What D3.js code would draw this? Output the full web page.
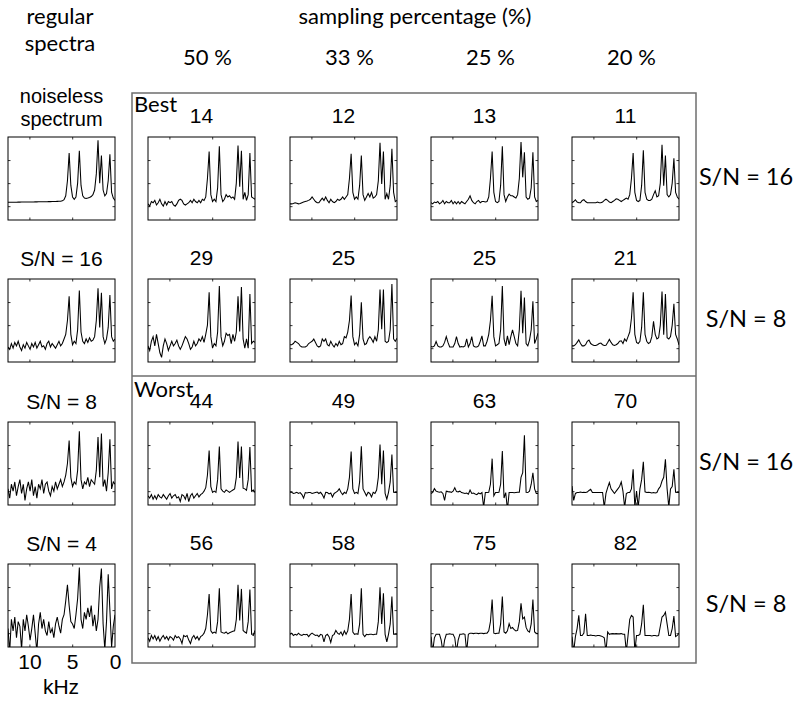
<!DOCTYPE html>
<html><head><meta charset="utf-8">
<script src="https://cdn.jsdelivr.net/npm/d3@7"></script>
<style>body{margin:0;background:#fff} svg{display:block}</style>
</head><body><svg id="c" width="800" height="701"></svg>
<script>
// ---- data ----
const sampling = ["50 %", "33 %", "25 %", "20 %"];
const leftTitles = ["noiseless spectrum", "S/N = 16", "S/N = 8", "S/N = 4"];
const rightLabels = ["S/N = 16", "S/N = 8", "S/N = 16", "S/N = 8"];
const scores = [[14, 12, 13, 11], [29, 25, 25, 21], [44, 49, 63, 70], [56, 58, 75, 82]];
const kHzTicks = [10, 5, 0];
const yTicks = [0, 10, 20];

// regular spectra (left column), 64 points from 12.5 kHz down to 0 kHz
const regNoiseless = [1.7,1.7,1.72,1.72,1.74,1.74,1.76,1.76,1.78,1.78,1.8,1.8,1.82,1.82,1.84,1.84,1.86,1.86,1.88,1.88,1.9,1.9,1.92,1.94,1.96,1.98,2,2.02,2.05,2.08,2.1,2.15,2.3,2.8,4.5,11,23,9,4,3,4,10,24,9,4.5,3.5,3.3,3.5,3.8,4.2,5,7,14,28.6,10,22,7,4.5,5.5,11,22.5,6,3.5,2.5];
const regSN16 = [0.5,-0.5,2,0,2.5,1,3,0.5,-1,1.5,0,2.5,1,-0.5,2,0.5,2.5,0,1.5,3,0.5,1,-0.5,2,3,0.5,2,1,0,1.5,3,1,2,4,6,12,22.5,6,1.5,3,2,8,25,7,3,2,4,2.5,4.5,3,3.5,5,12,26,9,24,5,2,4,9,23,5,3,4];
const regSN8 = [1,-3,3,0,4,-2,2,5,-1,3,-4,1,4,0,5,-2,2,-3,3,1,5,-1,3,4,0,-2,2,0,4,1,3,5,2,4,7,12,22,6,2,4,3,9,26,5,1,4,3,6,2,5,4,3,9,23.5,6,25,2,5,0,8,22.5,1,4,3];
const regSN4 = [2,-8,6,1,7,-2,5,3,-7,6,1,8,3,-3,2,8,0,-8,4,9,2,6,1,-1,5,0,2,-2,4,7,3,0,6,8,14,21,12,5,4,2,8,15,28.5,6,2,9,6,11,7,12,3,8,1,6,20,28,4,-7,5,25.5,10,-6,3,8];

// best reconstructions, S/N = 16 (50, 33, 25, 20 %)
const best16_50 = [1,0,2,1.5,2.5,0.5,1.5,3,1,0,2,0.5,2,1.5,2,0.5,0,1,2.5,3,2.5,1,0.5,1,1.5,2.5,1.5,3,2,1.5,2.5,1.5,3,2.5,4,12,23.7,5,2,3,2,8,26,5,2,3,5,4,4.5,3.5,4,3,10,26.3,8.4,24,3,6,2.5,5,23,4,3.5,3];
const best16_33 = [1,1,1.2,1.5,1.3,1,1.2,1.5,1.8,2,2.2,2.5,3,4,3,2,1.5,1.5,2.5,3.5,2.5,4,2.5,1.5,3,2,1.5,2,3,2.5,3,4,3,4,5,12,22.7,6,3,4,3,9,22,5,2.5,4,5.5,4,6,3.5,4,5,11,27.5,9.6,23.7,3,5.5,3,9,24.9,6,2,2.5];
const best16_25 = [1.5,1,1.8,1.5,2,1,1.5,2.5,1,2,1.5,1.5,2.5,1,2,1,2,1,2,1.5,1,2,3,4.5,2.5,1.5,1,2,2.5,1.5,2,2,1.8,2,4,12,23.7,6,2,1.5,2,9,26,5,2,4,5.2,4.5,4.5,4,3.5,5,12,27.8,12.5,23.4,4,3,3.5,8,23.4,4,2,2.5];
const best16_20 = [1.5,2,2.8,1.8,1.5,1.5,2.5,2.8,2,1.5,1.5,1.5,1.5,1.5,1.5,1.8,1.5,1.5,1.8,2.5,3,2.5,1.8,1.5,2,2.5,3.2,3,2.5,2,2.5,3,3.5,3,5,12,23,6,2.5,2,2.5,9,24.2,6,3,2.5,2.5,3,5,6.7,4,4.5,10,26.6,8.9,22,5,4,5,10,20.8,6,4,3];
// best reconstructions, S/N = 8
const best8_50 = [1,-1,3,5,1,6,2,-2,-4,1,4,2,-1,1,3,1,2,3.5,1,-0.5,1,3,5,4,2,-0.5,0.5,3,1,2,4,3,5,2.5,6,10,24.2,5,0,2,1,7,27,5,1,3,6.5,5.5,6,2,6,3,7,22.5,7.2,26.5,4,0,4,0,23.5,2,3,2.5];
const best8_33 = [1.5,1.5,2,3,2.5,2,1,0.5,0.5,0.5,1,2,2.5,3,4,2.5,1,0.5,1,4,3,4,1.5,1,3,1.5,0.5,2,1,3,1.5,2,5,4.5,7,12,22.8,5,1.5,2.5,1,6,19.9,4,1.5,2,4,5,4,2.5,5,3,8,25.4,8.2,25.4,3,2.4,3,8,27.8,4,3,4.3];
const best8_25 = [0.7,0.5,1,2.9,1,0.5,0.5,1,2.5,5,2.5,0.5,0.5,0.5,2,5,2,0.5,0.7,0.5,1,4,0.5,2,5,1,0.5,0.5,1,3,5.3,1,1,3,6,12,22.7,5,1,1.5,2,8,27,4,1,5.3,1.5,5,7.9,5,2,1,8,24.9,6.5,22,2,1,3.5,8,20.3,2,4,6.5];
const best8_20 = [1,1,1.5,2.5,3.6,2,1,1,1.5,3,3.5,2,1.5,1.2,1.2,1.5,2,2.2,1.5,1.2,1.3,2.5,3.8,2.5,1.5,1.2,1.5,2,3,3.2,2,4,3,5,7,13,24.2,6,2.5,2,3,9,24.2,6,3,2,2.5,5,11.6,6,4,4.5,10,24.6,5.8,23.5,4.5,4,5,10,19.3,6,4,1.4];
// worst reconstructions, S/N = 16
const worst16_50 = [-2,-3,-1.5,-3.5,-2,-3.5,-1.5,-2.5,-3,-1.5,-2.5,-3.5,-2,-1,-3,-2,-1.5,-3,-2.5,-4.5,-1.5,-2,-3.5,-1,-4.5,-2,-1,-3,-2,-1,-2.5,-1.5,-1,0,1.5,7,17.6,2,-0.5,0,-0.5,5,19.4,1,0,-0.5,0.5,0,-0.5,0,0.5,1,6,21.5,5.7,19.4,1.3,1,0.4,5,19.1,0,0.5,-0.6];
const worst16_33 = [-0.5,-0.5,-1,-0.8,-0.5,-1,-0.6,-1.5,-3,-0.6,-0.8,-0.6,-0.6,-1,-0.8,-0.6,-0.4,-1,-0.5,-1.5,-3,-0.5,-0.6,-1.2,-0.8,-2.5,-1,-0.5,0,1,-0.5,-1.5,-0.5,-1,1,6,17.2,1,-1,-0.5,-1,4,19.5,1,-0.5,-2,-0.5,-1,-2.5,-0.5,-1,0.5,6,20.2,3,17.6,-1,-3.5,-0.5,4,15.9,-0.5,-0.6,-0.6];
const worst16_25 = [-1,-0.5,1.1,0,-0.3,-0.5,-0.3,-1,-4,0,-0.2,-0.3,-0.5,0,1.5,-0.2,-0.3,0,-0.6,-0.8,-1,-0.8,-1.3,0.5,-1,-0.8,-1.2,-1.5,-0.8,-1.2,-0.6,-7,-0.6,-0.6,-0.5,3,14.1,-2,-0.6,-0.6,-0.5,3,17.4,-3,-0.6,-8,-0.6,-0.6,-0.6,-0.7,-0.6,-0.5,-0.5,6,8,24.2,-0.5,-0.6,0,3,8,1,-1,-1];
const worst16_20 = [2.2,-4,-1,-0.6,-0.6,-0.4,-0.6,-0.5,-0.6,-0.4,0.3,0.8,-0.6,-0.6,-0.6,-0.6,-0.6,-0.6,-0.6,-7,-1,1.5,3.7,1,0,-1,0,1,2,4,0,-7,-1,-0.6,-0.6,1,9.5,-7,0,-7,1,5,12.7,-0.3,-0.6,-0.5,-0.6,-0.8,-0.6,-0.8,-0.6,1,2,4.4,6,13.8,1,-7,1,2,9.5,-0.5,-0.6,-0.6];
// worst reconstructions, S/N = 8
const worst8_50 = [-2,-3.5,-1,-2.5,-1,-3,-1.5,-3.5,-2,-1,-2.5,-1.5,-3,-1.5,-2,-3,-1,-2,-1.5,-2.5,-4.5,-1,-1.5,-1,-3,-4.5,-2,-1,-2.5,-1.5,-3,-1.5,-1,0,2,8,17,1,0,0.5,0,5,19.5,0.5,0.2,0,0.5,-0.3,0.2,0.5,0.8,1,6,21,5.5,19.2,1.2,0.5,0,5,18.9,-0.5,-1,1.2];
const worst8_33 = [-0.5,0,-1,-0.5,-0.8,0,-0.7,-1,-0.5,-0.7,-0.5,-1.5,-0.5,0,-0.5,-1,-0.8,-1.5,-0.5,-0.8,-3.8,-1,-0.5,-1.5,-4,-1,-0.5,1.2,0,-0.5,0.5,-1,1,-0.5,1,6,17,0.5,-0.5,-0.3,-0.5,4,19.5,-0.5,-1.5,-0.5,-0.7,-0.5,-0.5,-0.7,-0.5,-0.5,5,19.9,4,17.3,-0.5,-3.8,-0.5,4,15.9,-0.5,-0.5,-0.5];
const worst8_25 = [-1.5,-8,-2,-0.5,-0.5,-0.5,-3,-8,-3,-0.5,-0.5,-0.3,-0.5,-0.5,-2,-8,-3,-0.5,-0.5,-0.3,-0.5,-8,-0.5,0,0,-0.2,0,0,-0.2,0,0,-0.2,0,0,1,5,14.6,0,-0.2,0,0,4,15.9,0.5,0,1,4.1,2,2.5,1.5,1,1.2,5,13,6.2,7,2.5,1,0.5,4,14.6,0.5,0,-0.2];
const worst8_20 = [-1.5,-8,-1.5,2,7.7,-1,-1,0,8.4,-1,-1,-0.8,-1,-1,-1.2,-1,-1,-1.2,-1.5,-2,-8,0.5,-0.5,-0.3,-0.2,-0.3,-0.2,-0.3,-0.3,-0.2,-0.5,-0.5,-8,-1,6,7.7,7,-8,-1,-1,-0.5,4,12.3,-1,-1,-1,-1,-1.2,-1,-1,-1.2,-1,3,7,7.7,9.1,4,-1,-1,2,7.4,-1.5,-1,0];

const leftSpectra = [regNoiseless, regSN16, regSN8, regSN4];
const gridSpectra = [
  [best16_50, best16_33, best16_25, best16_20],
  [best8_50, best8_33, best8_25, best8_20],
  [worst16_50, worst16_33, worst16_25, worst16_20],
  [worst8_50, worst8_33, worst8_25, worst8_20]
];

// frequency grid of each spectrum (kHz)
const freqs = d3.range(64).map(i => 12.5 - i * 12.5 / 63);

// ---- layout ----
const W = 107, H = 83;
const leftX = 8;
const colX = [148, 290, 431, 572];
const rowY = [137, 279, 422, 564];
const helv = "'Liberation Sans', Arial, Helvetica, sans-serif";
const myr = "Lato, 'Liberation Sans', sans-serif";

const svg = d3.select("#c");
const x = d3.scaleLinear().domain([12.5, 0]).range([0, W]);
const y = d3.scaleLinear().domain([-6, 30]).range([H, 0]);
const line = d3.line().x((d, i) => x(freqs[i])).y(d => y(d));

let clipId = 0;
function panel(px, py, data) {
  const g = svg.append("g").attr("transform", `translate(${px},${py})`);
  const id = "clip" + (clipId++);
  g.append("clipPath").attr("id", id).append("rect").attr("width", W).attr("height", H);
  g.append("path").datum(data).attr("clip-path", `url(#${id})`)
    .attr("d", line).attr("fill", "none").attr("stroke", "#000").attr("stroke-width", 1.05);
  const tk = 2.5;
  const axes = [
    [d3.axisBottom(x).tickValues([10, 5]), `translate(0,${H})`],
    [d3.axisTop(x).tickValues([10, 5]), `translate(0,0)`],
    [d3.axisLeft(y).tickValues(yTicks), `translate(0,0)`],
    [d3.axisRight(y).tickValues(yTicks), `translate(${W},0)`]
  ];
  axes.forEach(([ax, tr]) => {
    const a = g.append("g").attr("transform", tr)
      .call(ax.tickSizeInner(-tk).tickSizeOuter(0).tickFormat(""));
    a.select(".domain").remove();
    a.selectAll("line").attr("stroke", "#000").attr("stroke-width", 0.8);
  });
  g.append("rect").attr("width", W).attr("height", H).attr("fill", "none")
    .attr("stroke", "#000").attr("stroke-width", 1);
  return g;
}

// left column
leftSpectra.forEach((s, r) => panel(leftX, rowY[r], s));
// grid
gridSpectra.forEach((row, r) => row.forEach((s, c) => panel(colX[c], rowY[r], s)));

// big frame
svg.append("rect").attr("x", 132).attr("y", 93).attr("width", 564).attr("height", 570)
  .attr("fill", "none").attr("stroke", "#6e6e6e").attr("stroke-width", 1.5);
svg.append("line").attr("x1", 132).attr("x2", 696).attr("y1", 376).attr("y2", 376)
  .attr("stroke", "#6e6e6e").attr("stroke-width", 1.5);

function txt(t, tx, ty, size, fam, anchor) {
  return svg.append("text").attr("x", tx).attr("y", ty).text(t)
    .attr("font-size", size).attr("font-family", fam)
    .attr("text-anchor", anchor || "middle").attr("fill", "#000");
}

// scores
scores.forEach((row, r) => row.forEach((v, c) => txt(v, colX[c] + W / 2, rowY[r] - 14, 21, helv)));
// left titles
txt("noiseless", leftX + W / 2, 103, 20, helv);
txt("spectrum", leftX + W / 2, 126, 20, helv);
leftTitles.slice(1).forEach((t, i) => txt(t, leftX + W / 2, rowY[i + 1] - 13, 21, helv));

// left x axis labels
const lab = svg.append("g").attr("transform", `translate(${leftX},${rowY[3] + H})`)
  .call(d3.axisBottom(x).tickValues(kHzTicks).tickSize(0).tickPadding(7).tickFormat(d3.format("d")));
lab.select(".domain").remove();
lab.selectAll("text").attr("font-size", 21).attr("font-family", helv).attr("fill", "#000");
txt("kHz", 61, 694, 21, helv);

// headers
txt("regular", 60, 24, 22, myr);
txt("spectra", 60, 51, 22, myr);
txt("sampling percentage (%)", 415, 24, 22, myr);
sampling.forEach((s, c) => txt(s, colX[c] + W / 2 + 6, 65, 22, myr));
txt("Best", 134, 112, 22, myr, "start");
txt("Worst", 134, 397, 22, myr, "start");
rightLabels.forEach((s, r) => txt(s, 746, rowY[r] + H / 2 + 6, 23.5, myr));
</script>
</body></html>
